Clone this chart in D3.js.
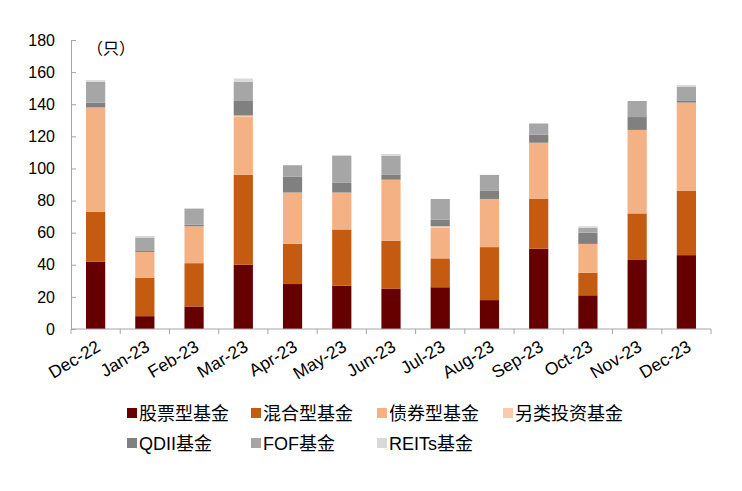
<!DOCTYPE html>
<html lang="zh">
<head>
<meta charset="utf-8">
<title>基金数量</title>
<script src="https://cdn.jsdelivr.net/npm/d3@7"></script>
<style>
  body { margin: 0; background: #fff; }
  text { font-family: "Liberation Sans", Arial, "Noto Sans CJK SC", sans-serif; fill: #000; }
</style>
</head>
<body>
<script>
// months on the x axis
var months = ["Dec-22", "Jan-23", "Feb-23", "Mar-23", "Apr-23", "May-23", "Jun-23",
              "Jul-23", "Aug-23", "Sep-23", "Oct-23", "Nov-23", "Dec-23"];

// series names (legend order = stack order)
var seriesNames = ["股票型基金", "混合型基金", "债券型基金", "另类投资基金", "QDII基金", "FOF基金", "REITs基金"];
var seriesColors = ["#660000", "#C55A11", "#F4B183", "#F8CBAD", "#808080", "#A6A6A6", "#D9D9D9"];

// values
var stock  = [42,  8, 14, 40, 28, 27, 25, 26, 18, 50, 21, 43, 46];
var mixed  = [31, 24, 27, 56, 25, 35, 30, 18, 33, 31, 14, 29, 40];
var bond   = [65, 16, 23, 36, 32, 23, 38, 19, 30, 35, 18, 52, 55];
var alt    = [ 0,  0,  0,  1,  0,  0,  0,  1,  0,  0,  0,  0,  0];
var qdii   = [ 3,  1,  1,  9, 10,  6,  3,  4,  5,  5,  7,  8,  1];
var fof    = [13,  8, 10, 12,  7, 17, 12, 13, 10,  7,  3, 10,  9];
var reits  = [ 1,  1,  0,  2,  0,  0,  1,  0,  0,  0,  1,  0,  1];

var yTicks = [0, 20, 40, 60, 80, 100, 120, 140, 160, 180];

var width = 742, height = 491;
var margin = {left: 71, right: 31, top: 40, bottom: 162};

var allSeries = [stock, mixed, bond, alt, qdii, fof, reits];
var table = months.map(function(m, i) {
  var row = {month: m};
  seriesNames.forEach(function(s, k) { row[s] = allSeries[k][i]; });
  return row;
});

var svg = d3.select("body").append("svg")
  .attr("width", width)
  .attr("height", height);

var x = d3.scaleBand()
  .domain(months)
  .range([margin.left, width - margin.right]);

var y = d3.scaleLinear()
  .domain([0, 180])
  .range([height - margin.bottom, margin.top]);

var barW = x.step() * 0.39;

var stacked = d3.stack().keys(seriesNames)(table);

svg.selectAll("g.layer").data(stacked).enter()
  .append("g")
  .attr("class", "layer")
  .attr("fill", function(d, i) { return seriesColors[i]; })
  .selectAll("rect").data(function(d) { return d; }).enter()
  .append("rect")
  .attr("x", function(d) { return x(d.data.month) + x.bandwidth() / 2 - barW / 2; })
  .attr("width", barW)
  .attr("y", function(d) { return y(d[1]); })
  .attr("height", function(d) { return y(d[0]) - y(d[1]); });

// y axis
var yAxis = svg.append("g")
  .attr("transform", "translate(" + margin.left + ",0)")
  .call(d3.axisLeft(y).tickValues(yTicks).tickSize(-5).tickPadding(16));
yAxis.select(".domain").attr("stroke", "#A6A6A6");
yAxis.selectAll(".tick line").attr("stroke", "#A6A6A6");
yAxis.selectAll(".tick text").attr("font-size", 16).attr("fill", "#000")
  .attr("font-family", "'Liberation Sans', Arial, sans-serif");

// x axis with ticks at category edges
var xAxis = svg.append("g")
  .attr("transform", "translate(0," + y(0) + ")");
xAxis.append("line")
  .attr("x1", margin.left).attr("x2", width - margin.right)
  .attr("stroke", "#A6A6A6");
xAxis.selectAll("line.edge").data(months.concat(["end"])).enter()
  .append("line")
  .attr("class", "edge")
  .attr("x1", function(d, i) { return margin.left + i * x.step(); })
  .attr("x2", function(d, i) { return margin.left + i * x.step(); })
  .attr("y1", 0).attr("y2", 5)
  .attr("stroke", "#A6A6A6");
xAxis.selectAll("text").data(months).enter()
  .append("text")
  .attr("text-anchor", "end")
  .attr("font-size", 17.5)
  .attr("transform", function(d) {
    return "translate(" + (x(d) + x.bandwidth() / 2 + 6) + ",21) rotate(-31)";
  })
  .text(function(d) { return d; });

// unit label
svg.append("text")
  .attr("x", 111).attr("y", 54)
  .attr("text-anchor", "middle")
  .attr("font-size", 16)
  .text("（只）");

// legend
var legendX = [127, 251, 377, 503];
var legendY = [413, 443];
var legend = svg.selectAll("g.legend").data(seriesNames).enter()
  .append("g")
  .attr("class", "legend")
  .attr("transform", function(d, i) {
    return "translate(" + legendX[i % 4] + "," + legendY[Math.floor(i / 4)] + ")";
  });
legend.append("rect")
  .attr("x", 0).attr("y", -5)
  .attr("width", 10).attr("height", 10)
  .attr("fill", function(d, i) { return seriesColors[i]; });
legend.append("text")
  .attr("x", 12).attr("y", 6.5)
  .attr("font-size", 18)
  .text(function(d) { return d; });
</script>
</body>
</html>
